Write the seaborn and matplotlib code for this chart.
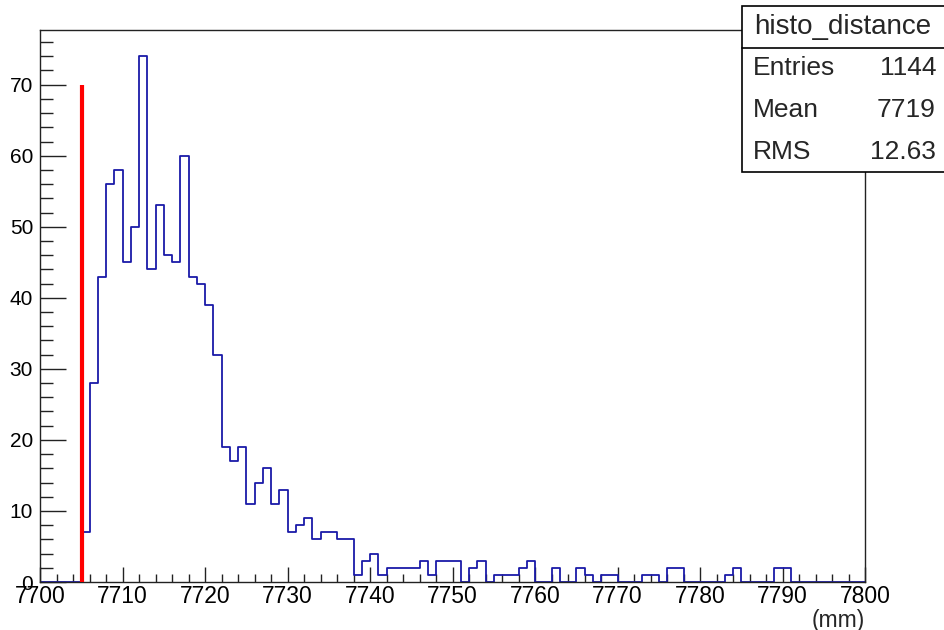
import numpy as np
import pandas as pd
import matplotlib
matplotlib.use("Agg")
import matplotlib.pyplot as plt
from matplotlib.patches import Rectangle
import seaborn as sns

# ===== Histogram data (1 mm bins from 7700 to 7800) =====
bin_start = 7700
bin_width = 1
counts = [
    0, 0, 0, 0, 0, 7, 28, 43, 56, 58,
    45, 50, 74, 44, 53, 46, 45, 60, 43, 42,
    39, 32, 19, 17, 19, 11, 14, 16, 11, 13,
    7, 8, 9, 6, 7, 7, 6, 6, 1, 3,
    4, 1, 2, 2, 2, 2, 3, 1, 3, 3,
    3, 0, 2, 3, 0, 1, 1, 1, 2, 3,
    0, 0, 2, 0, 0, 2, 1, 0, 1, 1,
    0, 0, 0, 1, 1, 0, 2, 2, 0, 0,
    0, 0, 0, 1, 2, 0, 0, 0, 0, 2,
    2, 0, 0, 0, 0, 0, 0, 0, 0, 0,
]
cut_position = 7705.1
cut_height = 70

stats_name = "histo_distance"
stats_labels = ["Entries", "Mean", "RMS"]
stats_values = ["1144", "7719", "12.63"]

x_ticks = [7700, 7710, 7720, 7730, 7740, 7750, 7760, 7770, 7780, 7790, 7800]
y_ticks = [0, 10, 20, 30, 40, 50, 60, 70]

n_bins = len(counts)
edges = bin_start + bin_width * np.arange(n_bins + 1)
df = pd.DataFrame({"distance": edges[:-1] + bin_width / 2, "count": counts})

sns.set_style("ticks")
plt.rcParams['font.family'] = ['Liberation Sans', 'DejaVu Sans']

fig = plt.figure(figsize=(9.44, 6.3), dpi=100)
ax = fig.add_axes([40 / 944, 1 - 582 / 630, 825 / 944, 552 / 630])

sns.histplot(data=df, x="distance", weights="count", binwidth=bin_width,
             binrange=(edges[0], edges[-1]),
             element="step", fill=False, color="#1a1aa8", linewidth=1.3, ax=ax)

# cut marker
ax.vlines(cut_position, 0, cut_height, color="#ff0000", linewidth=3, zorder=5)

ax.set_xlim(edges[0], edges[-1])
ax.set_ylim(0, max(counts) * 1.05)
ax.set_xticks(x_ticks)
ax.set_yticks(y_ticks)
ax.set_xticks(np.arange(7700, 7801, 2), minor=True)
ax.set_yticks(np.arange(0, 77, 2), minor=True)
ax.tick_params(axis="both", which="both", direction="in", width=1,
               colors="#222222", labelcolor="black")
ax.tick_params(axis="x", which="major", length=11, pad=2, labelsize=16.5)
ax.tick_params(axis="x", which="minor", length=5.5)
ax.tick_params(axis="y", which="major", length=19, pad=5, labelsize=15)
ax.tick_params(axis="y", which="minor", length=9.5)
ax.set_xlabel("")
ax.set_ylabel("")
for s in ax.spines.values():
    s.set_visible(True)
    s.set_color("#222222")
    s.set_linewidth(1)

fig.text(865 / 944, 1 - 620 / 630, "(mm)", ha="right", va="center", fontsize=16.5)

# ===== Stats box =====
def fy(py):
    return 1 - py / 630

def fx(px):
    return px / 944

box = Rectangle((fx(742), fy(172)), fx(960) - fx(742), fy(6) - fy(172),
                transform=fig.transFigure, facecolor="white", edgecolor="black",
                linewidth=1.2, zorder=10)
fig.add_artist(box)
fig.add_artist(plt.Line2D([fx(742), fx(960)], [fy(47.5), fy(47.5)],
                          transform=fig.transFigure, color="black", linewidth=1.2, zorder=11))
fig.text(fx(843), fy(27), stats_name, ha="center", va="center", fontsize=20, zorder=12)
row_y = [68, 110, 152]
for lab, val, py in zip(stats_labels, stats_values, row_y):
    fig.text(fx(753), fy(py), lab, ha="left", va="center", fontsize=19, zorder=12)
    fig.text(fx(936), fy(py), val, ha="right", va="center", fontsize=19, zorder=12)

fig.savefig("out.png", dpi=100)
